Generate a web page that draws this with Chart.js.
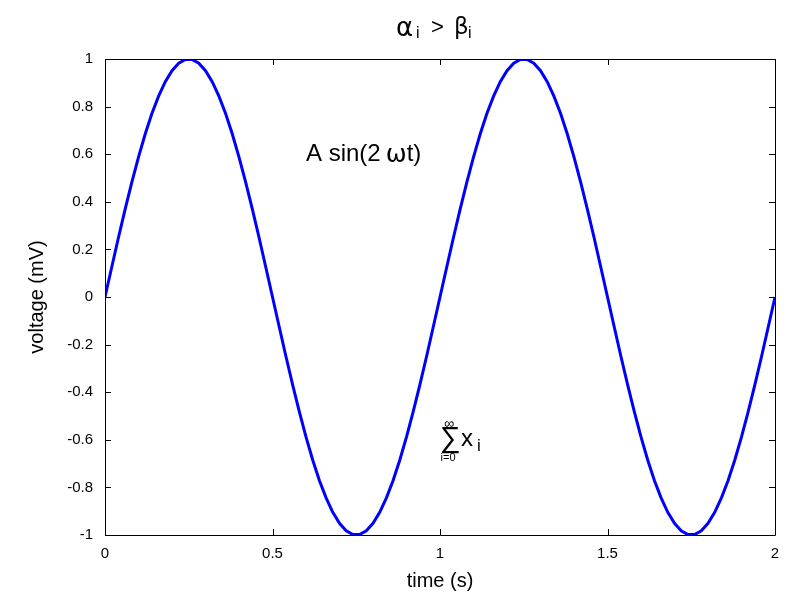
<!DOCTYPE html>
<html>
<head>
<meta charset="utf-8">
<script src="https://cdn.jsdelivr.net/npm/chart.js@4"></script>
<style>
  html, body { margin: 0; padding: 0; background: #fff; }
  #wrap { width: 800px; height: 600px; }
</style>
</head>
<body>
<div id="wrap"><canvas id="myChart" width="800" height="600"></canvas></div>
<script>
// time samples (s), step 0.02
const times = [0,0.02,0.04,0.06,0.08,0.1,0.12,0.14,0.16,0.18,0.2,0.22,0.24,0.26,0.28,0.3,0.32,0.34,0.36,0.38,0.4,0.42,0.44,0.46,0.48,
               0.5,0.52,0.54,0.56,0.58,0.6,0.62,0.64,0.66,0.68,0.7,0.72,0.74,0.76,0.78,0.8,0.82,0.84,0.86,0.88,0.9,0.92,0.94,0.96,0.98,
               1,1.02,1.04,1.06,1.08,1.1,1.12,1.14,1.16,1.18,1.2,1.22,1.24,1.26,1.28,1.3,1.32,1.34,1.36,1.38,1.4,1.42,1.44,1.46,1.48,
               1.5,1.52,1.54,1.56,1.58,1.6,1.62,1.64,1.66,1.68,1.7,1.72,1.74,1.76,1.78,1.8,1.82,1.84,1.86,1.88,1.9,1.92,1.94,1.96,1.98,2];
// voltage (mV)
const voltage = [0,0.125,0.249,0.368,0.482,0.588,0.685,0.771,0.844,0.905,0.951,0.982,0.998,0.998,0.982,0.951,0.905,0.844,0.771,0.685,0.588,0.482,0.368,0.249,0.125,
                 0,-0.125,-0.249,-0.368,-0.482,-0.588,-0.685,-0.771,-0.844,-0.905,-0.951,-0.982,-0.998,-0.998,-0.982,-0.951,-0.905,-0.844,-0.771,-0.685,-0.588,-0.482,-0.368,-0.249,-0.125,
                 0,0.125,0.249,0.368,0.482,0.588,0.685,0.771,0.844,0.905,0.951,0.982,0.998,0.998,0.982,0.951,0.905,0.844,0.771,0.685,0.588,0.482,0.368,0.249,0.125,
                 0,-0.125,-0.249,-0.368,-0.482,-0.588,-0.685,-0.771,-0.844,-0.905,-0.951,-0.982,-0.998,-0.998,-0.982,-0.951,-0.905,-0.844,-0.771,-0.685,-0.588,-0.482,-0.368,-0.249,-0.125,0];

const xTicks = [0, 0.5, 1, 1.5, 2];
const yTicks = [-1, -0.8, -0.6, -0.4, -0.2, 0, 0.2, 0.4, 0.6, 0.8, 1];

const FONT = "'Liberation Sans', Arial, sans-serif";
const GREEK = "'DejaVu Sans', sans-serif";

// frame with inward ticks on all four sides, plus the text labels
const framePlugin = {
  id: 'frame',
  afterDraw(chart) {
    const ctx = chart.ctx;
    const a = chart.chartArea;
    const xs = chart.scales.x, ys = chart.scales.y;
    ctx.save();
    ctx.strokeStyle = '#000';
    ctx.lineWidth = 1;
    ctx.beginPath();
    ctx.rect(a.left + 0.5, a.top + 0.5, a.right - a.left, a.bottom - a.top);
    xTicks.forEach(v => {
      const px = Math.round(xs.getPixelForValue(v)) + 0.5;
      ctx.moveTo(px, a.bottom); ctx.lineTo(px, a.bottom - 6);
      ctx.moveTo(px, a.top); ctx.lineTo(px, a.top + 6);
    });
    yTicks.forEach(v => {
      const py = Math.round(ys.getPixelForValue(v)) + 0.5;
      ctx.moveTo(a.left, py); ctx.lineTo(a.left + 6, py);
      ctx.moveTo(a.right, py); ctx.lineTo(a.right - 6, py);
    });
    ctx.stroke();

    ctx.fillStyle = '#000';
    ctx.textBaseline = 'middle';
    ctx.textAlign = 'left';

    // title: alpha_i > beta_i
    const y = 28;
    ctx.font = '26px ' + GREEK;
    ctx.fillText('α', 396, y + 1);
    ctx.font = '23px ' + GREEK;
    ctx.fillText('β', 454, y);
    ctx.font = '22px ' + FONT;
    ctx.fillText('>', 431, y);
    ctx.font = '16px ' + FONT;
    ctx.fillText('i', 416, y + 6);
    ctx.fillText('i', 468, y + 6);

    // A sin(2 wt) at (0.6, 0.6)
    const ax = xs.getPixelForValue(0.6), ay = ys.getPixelForValue(0.6);
    ctx.font = '24px ' + FONT;
    ctx.fillText('A sin(2', ax, ay);
    const w = ctx.measureText('A sin(2').width;
    ctx.font = '25px ' + GREEK;
    ctx.fillText('ω', ax + w + 5, ay + 1);
    const w2 = ctx.measureText('ω').width;
    ctx.font = '24px ' + FONT;
    ctx.fillText('t)', ax + w + w2 + 5, ay);

    // sum_{i=0}^{inf} x_i at (1, -0.6)
    const sx = xs.getPixelForValue(1), sy = ys.getPixelForValue(-0.6);
    ctx.font = '29px ' + FONT;
    ctx.fillText('∑', sx, sy - 1);
    ctx.textAlign = 'center';
    ctx.font = '14px ' + FONT;
    ctx.fillText('∞', sx + 9, sy - 16);
    ctx.font = '11px ' + FONT;
    ctx.fillText('i=0', sx + 8, sy + 18);
    ctx.textAlign = 'left';
    ctx.font = '24px ' + FONT;
    ctx.fillText('x', sx + 21, sy);
    ctx.font = '17px ' + FONT;
    ctx.fillText('i', sx + 37, sy + 7);
    ctx.restore();
  }
};

const data = {
  datasets: [{
    data: times.map((t, i) => ({ x: t, y: voltage[i] })),
    borderColor: 'rgb(0, 0, 255)',
    borderWidth: 3,
    pointRadius: 0,
    tension: 0,
    fill: false
  }]
};

const config = {
  type: 'line',
  data: data,
  options: {
    responsive: false,
    animation: false,
    layout: { padding: { top: 59, right: 25, left: 0, bottom: 0 } },
    plugins: { legend: { display: false }, title: { display: false }, tooltip: { enabled: false } },
    scales: {
      x: {
        type: 'linear', min: 0, max: 2,
        afterBuildTicks: s => { s.ticks = xTicks.map(v => ({ value: v })); },
        afterFit: s => { s.height = 65; },
        grid: { display: false, drawTicks: false },
        border: { display: false },
        ticks: { color: '#000', font: { family: FONT, size: 15 }, padding: 10, maxRotation: 0,
                 callback: v => String(v) },
        title: { display: true, text: 'time (s)', color: '#000', font: { family: FONT, size: 20 },
                 padding: { top: 0, bottom: 7 } }
      },
      y: {
        type: 'linear', min: -1, max: 1,
        afterBuildTicks: s => { s.ticks = yTicks.map(v => ({ value: v })); },
        afterFit: s => { s.width = 105; },
        grid: { display: false, drawTicks: false },
        border: { display: false },
        ticks: { color: '#000', font: { family: FONT, size: 15 }, padding: 12,
                 callback: v => String(v) },
        title: { display: true, text: 'voltage (mV)', color: '#000', font: { family: FONT, size: 20 },
                 padding: { top: 25, bottom: 0 } }
      }
    }
  },
  plugins: [framePlugin]
};

const myChart = new Chart(document.getElementById('myChart'), config);
</script>
</body>
</html>
